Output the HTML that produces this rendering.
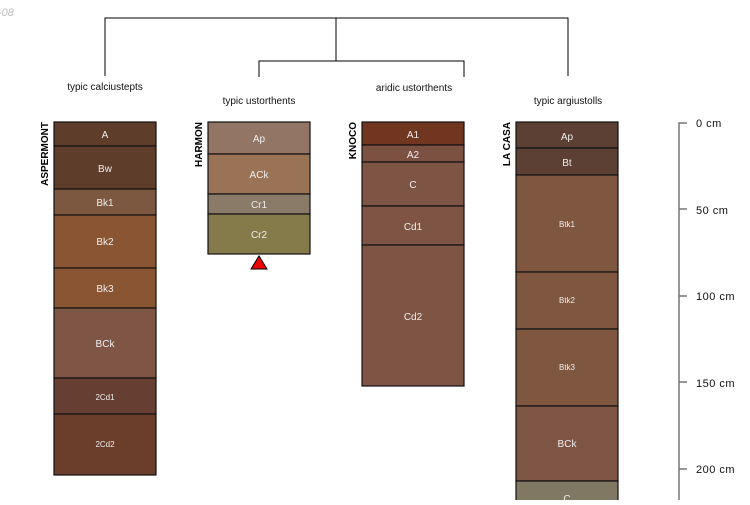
<!DOCTYPE html><html><head><style>body{margin:0;background:#fff}</style></head><body>
<svg width="750" height="500" xmlns="http://www.w3.org/2000/svg" font-family="Liberation Sans, sans-serif">
<text x="-2" y="16" font-size="11" fill="#bbb" font-style="italic">-08</text>
<g stroke="#000" fill="none" stroke-width="1">
<path d="M105 76V18H568V76M336 18V61M259 77V61H464V77"/>
</g>
<g font-size="10" fill="#111" text-anchor="middle">
<text x="105" y="90">typic calciustepts</text>
<text x="259" y="104">typic ustorthents</text>
<text x="414" y="91">aridic ustorthents</text>
<text x="568" y="104">typic argiustolls</text>
</g>
<g stroke="#111" stroke-width="1.2" font-size="10" fill="#eee" text-anchor="middle">
<rect x="54" y="122" width="102" height="24" fill="#5f3d2b"/>
<rect x="54" y="146" width="102" height="43" fill="#5f3d2b"/>
<rect x="54" y="189" width="102" height="26" fill="#7d5840"/>
<rect x="54" y="215" width="102" height="53" fill="#8a5533"/>
<rect x="54" y="268" width="102" height="40" fill="#8a5533"/>
<rect x="54" y="308" width="102" height="70" fill="#7f5646"/>
<rect x="54" y="378" width="102" height="36" fill="#663f32"/>
<rect x="54" y="414" width="102" height="61" fill="#6a3e2a"/>
<rect x="208" y="122" width="102" height="32" fill="#937565"/>
<rect x="208" y="154" width="102" height="40" fill="#9a7356"/>
<rect x="208" y="194" width="102" height="20" fill="#8a7a68"/>
<rect x="208" y="214" width="102" height="40" fill="#857a4a"/>
<rect x="362" y="122" width="102" height="23" fill="#713620"/>
<rect x="362" y="145" width="102" height="17" fill="#7c5142"/>
<rect x="362" y="162" width="102" height="44" fill="#7e5444"/>
<rect x="362" y="206" width="102" height="39" fill="#7e5444"/>
<rect x="362" y="245" width="102" height="141" fill="#7e5444"/>
<rect x="516" y="122" width="102" height="26" fill="#5c4033"/>
<rect x="516" y="148" width="102" height="27" fill="#5c4033"/>
<rect x="516" y="175" width="102" height="97" fill="#7f5640"/>
<rect x="516" y="272" width="102" height="57" fill="#7f5640"/>
<rect x="516" y="329" width="102" height="77" fill="#7f5640"/>
<rect x="516" y="406" width="102" height="75" fill="#7f5646"/>
<rect x="516" y="481" width="102" height="30" fill="#807862"/>
</g>
<g font-size="10" fill="#eee" text-anchor="middle">
<text x="105" y="138">A</text><text x="105" y="172">Bw</text><text x="105" y="206">Bk1</text><text x="105" y="245">Bk2</text><text x="105" y="292">Bk3</text><text x="105" y="347">BCk</text><text x="105" y="400" font-size="8">2Cd1</text><text x="105" y="447" font-size="8">2Cd2</text>
<text x="259" y="142">Ap</text><text x="259" y="178">ACk</text><text x="259" y="208">Cr1</text><text x="259" y="238">Cr2</text>
<text x="413" y="138">A1</text><text x="413" y="158">A2</text><text x="413" y="188">C</text><text x="413" y="230">Cd1</text><text x="413" y="320">Cd2</text>
<text x="567" y="140">Ap</text><text x="567" y="166">Bt</text><text x="567" y="227" font-size="8">Btk1</text><text x="567" y="303" font-size="8">Btk2</text><text x="567" y="370" font-size="8">Btk3</text><text x="567" y="447">BCk</text><text x="567" y="502">C</text>
</g>
<polygon points="251,269 267,269 259,256" fill="#e00" stroke="#000" stroke-width="1"/>
<g font-size="10" font-weight="bold" fill="#000">
<text transform="translate(48,122) rotate(-90)" text-anchor="end">ASPERMONT</text>
<text transform="translate(202,122) rotate(-90)" text-anchor="end">HARMON</text>
<text transform="translate(356,122) rotate(-90)" text-anchor="end">KNOCO</text>
<text transform="translate(510,122) rotate(-90)" text-anchor="end">LA CASA</text>
</g>
<g stroke="#777" stroke-width="1.5" fill="none"><path d="M687 123H679V500M679 209H687M679 296H687M679 382H687M679 469H687"/></g>
<g font-size="11" fill="#111" letter-spacing="0.5">
<text x="696" y="127">0 cm</text><text x="696" y="214">50 cm</text><text x="696" y="300">100 cm</text><text x="696" y="387">150 cm</text><text x="696" y="473">200 cm</text>
</g>
</svg></body></html>
